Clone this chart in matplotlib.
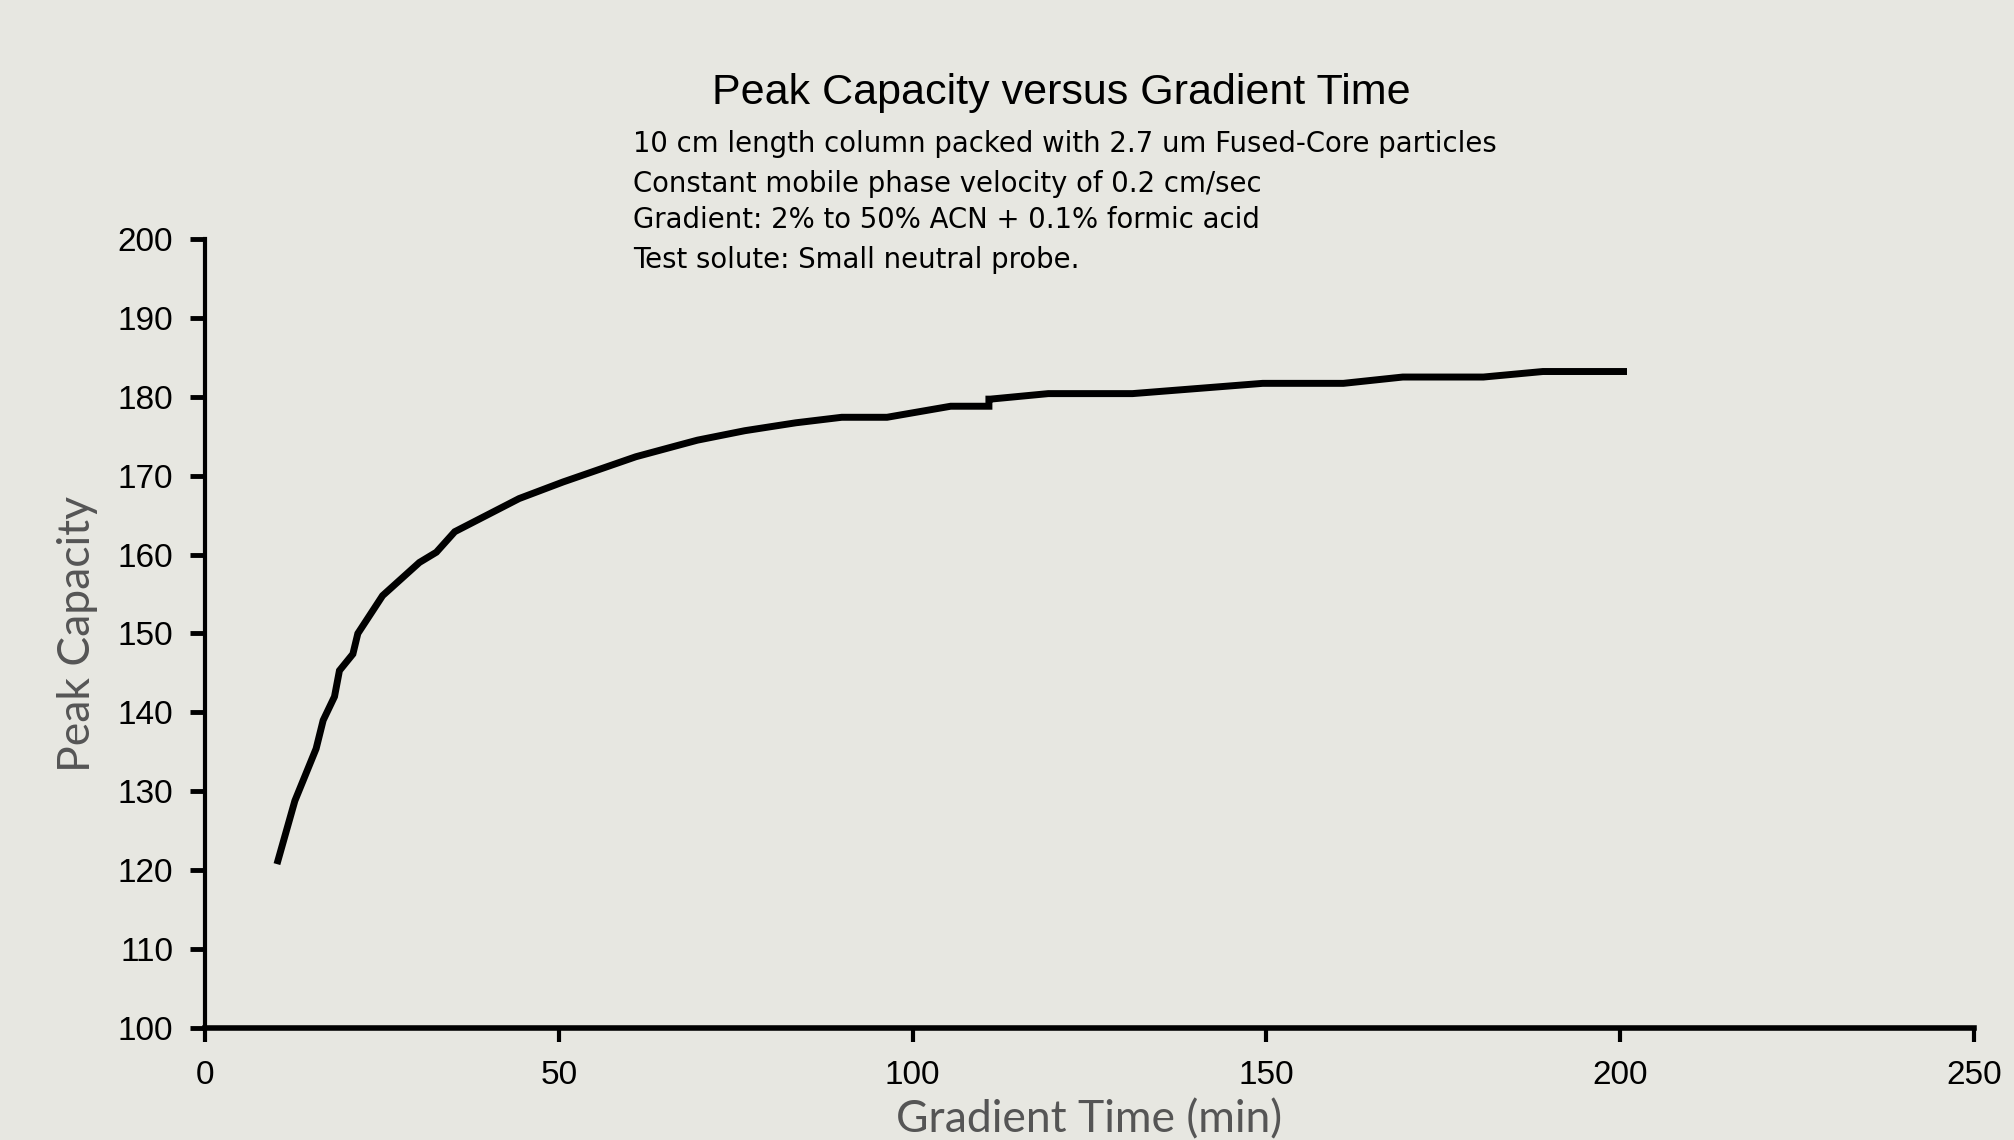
import matplotlib
matplotlib.use("Agg")
import matplotlib.pyplot as plt

# gradient time (min) vs peak capacity
gradient_time = [10.3, 12.7, 15.7, 16.7, 18.3, 19.0, 20.9, 21.6, 25.1, 30.3, 32.7, 35.3,
                 44.4, 50.6, 60.9, 67.1, 69.6, 76.3, 83.5, 90.0, 96.4, 105.4, 110.8,
                 110.8, 111.0, 119.2, 131.1, 149.5, 160.9, 169.3, 180.7, 189.1, 200.5]
peak_capacity = [121.2, 128.8, 135.4, 139.0, 142.0, 145.3, 147.4, 150.0, 154.8, 159.0, 160.3, 162.9,
                 167.1, 169.2, 172.4, 173.9, 174.5, 175.7, 176.7, 177.4, 177.4, 178.8, 178.8,
                 179.7, 179.7, 180.4, 180.4, 181.7, 181.7, 182.5, 182.5, 183.2, 183.2]

x_ticks = [0, 50, 100, 150, 200, 250]
y_ticks = [100, 110, 120, 130, 140, 150, 160, 170, 180, 190, 200]

title = "Peak Capacity versus Gradient Time"
notes = ["10 cm length column packed with 2.7 um Fused-Core particles",
         "Constant mobile phase velocity of 0.2 cm/sec",
         "Gradient: 2% to 50% ACN + 0.1% formic acid",
         "Test solute: Small neutral probe."]

bg = "#e7e7e1"
fig = plt.figure(figsize=(20.14, 11.4), dpi=100, facecolor=bg)
ax = fig.add_axes([0.1018, 0.0982, 0.8782, 0.6922], facecolor=bg)

ax.plot(gradient_time, peak_capacity, color="black", lw=5, solid_joinstyle="miter")

ax.set_xlim(0, 250)
ax.set_ylim(100, 200)
ax.set_xticks(x_ticks)
ax.set_yticks(y_ticks)
ax.tick_params(axis="both", direction="out", color="black", labelsize=24)
ax.tick_params(axis="y", length=11, width=3.5, pad=12)
ax.tick_params(axis="x", length=10, width=3, pad=13)
for lab in ax.get_xticklabels() + ax.get_yticklabels():
    lab.set_family("Liberation Sans")

for s in ["top", "right"]:
    ax.spines[s].set_visible(False)
ax.spines["left"].set_linewidth(3)
ax.spines["bottom"].set_linewidth(4)

ax.set_xlabel("Gradient Time (min)", family="Lato", fontsize=32, color="#555555", labelpad=6)
ax.set_ylabel("Peak Capacity", family="Lato", fontsize=32, color="#555555", labelpad=14)

fig.text(0.527, 0.918, title, family="Liberation Sans", fontsize=31, ha="center", va="center")
note_y = [0.874, 0.839, 0.807, 0.772]
for t, yy in zip(notes, note_y):
    fig.text(0.3145, yy, t, family="DejaVu Sans", fontsize=19.8, ha="left", va="center")

fig.savefig("out.png", dpi=100, facecolor=bg)
